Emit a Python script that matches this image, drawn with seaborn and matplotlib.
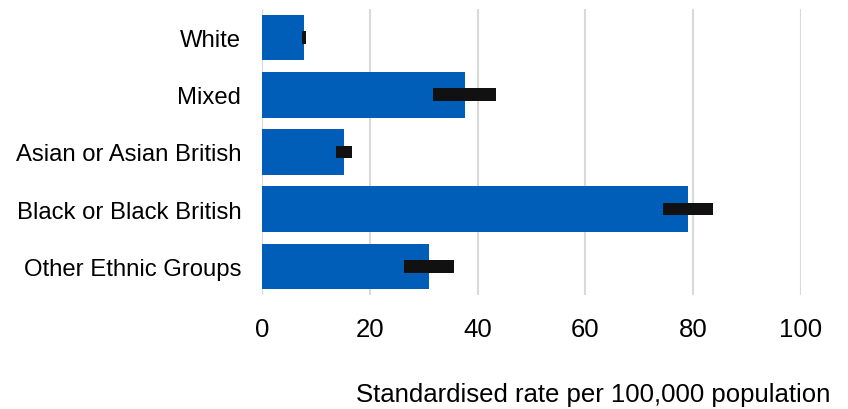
import matplotlib
matplotlib.use("Agg")
import matplotlib.pyplot as plt
import seaborn as sns
import pandas as pd

# Values
groups = ["White", "Mixed", "Asian or Asian British", "Black or Black British", "Other Ethnic Groups"]
rates = [7.8, 37.7, 15.2, 79.0, 31.0]
ci_low = [7.5, 31.8, 13.7, 74.3, 26.3]
ci_high = [8.2, 43.5, 16.7, 83.7, 35.6]
xticks = [0, 20, 40, 60, 80, 100]

df = pd.DataFrame({"group": groups, "rate": rates})

sns.set_theme(style="whitegrid")
plt.rcParams["font.family"] = ["Liberation Sans", "DejaVu Sans"]

fig = plt.figure(figsize=(8.48, 4.1), dpi=100)
ax = fig.add_axes([0.309, 0.278, 0.6356, 0.698])

sns.barplot(data=df, x="rate", y="group", order=groups, color="#005EB8",
            saturation=1, width=0.8, linewidth=0, ax=ax)

# confidence interval ranges as thick black bars
ax.barh(range(len(groups)), [h - l for l, h in zip(ci_low, ci_high)], left=ci_low,
        height=0.22, color="#111111", linewidth=0, zorder=3)

ax.set_xlim(0, 100)
ax.set_ylim(len(groups) - 0.5, -0.5)
ax.set_xticks(xticks)
ax.set_xticklabels([str(t) for t in xticks], fontsize=18.5)
ax.tick_params(axis="x", length=0, pad=16, colors="black")
ax.tick_params(axis="y", length=0, pad=15, labelsize=17.2, colors="black")
ax.set_ylabel("")
ax.grid(axis="x", color="#D9D9D9", linewidth=1.5)
ax.grid(axis="y", visible=False)
ax.set_axisbelow(True)
for s in ax.spines.values():
    s.set_visible(False)

ax.set_xlabel("Standardised rate per 100,000 population", fontsize=18.5, color="black",
              ha="right", va="center")
ax.xaxis.set_label_coords(1.054, -0.346)

fig.savefig("out.png", dpi=100, facecolor="white")
